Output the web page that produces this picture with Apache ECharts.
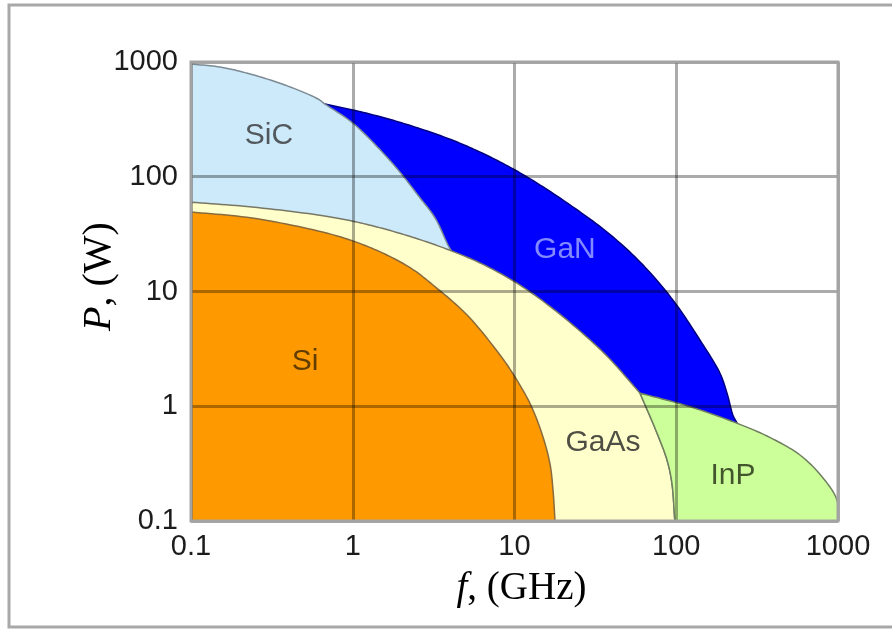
<!DOCTYPE html>
<html>
<head>
<meta charset="utf-8">
<script src="https://cdn.jsdelivr.net/npm/echarts@6/dist/echarts.min.js"></script>
<style>
  html, body { margin: 0; padding: 0; background: #ffffff; }
  #chart { width: 892px; height: 630px; }
</style>
</head>
<body>
<div id="chart"></div>
<script>
// Axis ticks (frequency in GHz, power in W), both logarithmic
const tickValues = [0.1, 1, 10, 100, 1000];
const tickLabels = ['0.1', '1', '10', '100', '1000'];

// Region boundaries as [frequency GHz, power W]
const sicEdge = [[0.1, 960], [0.151, 904], [0.232, 786], [0.381, 630], [0.61, 476], [0.673, 430],
  [1.0, 294], [1.58, 155], [2.02, 104], [2.53, 69], [3.23, 43.7], [3.88, 25.4], [4.11, 22]];
const ganTop = [[0.673, 430], [1.0, 382], [1.58, 325], [2.53, 266], [4.11, 209], [6.3, 161],
  [9.8, 117], [14.4, 84.7], [23, 54.5], [37.3, 33], [59.7, 18.1], [95.5, 8.4], [140, 3.78],
  [186, 1.95], [206, 1.3], [224, 0.84], [238, 0.71]];
const gaasTop = [[0.1, 60], [0.238, 54.5], [0.61, 46.4], [1.0, 41], [1.58, 35], [2.53, 28.7],
  [4.11, 22.5], [6.3, 17.4], [9.8, 12.4], [14.4, 8.6], [23, 5.1], [37.3, 2.74], [54, 1.53], [59.7, 1.3]];
const gaasInpEdge = [[59.7, 1.3], [76, 0.585], [87.7, 0.34], [94, 0.214], [98, 0.1]];
const inpTop = [[59.7, 1.3], [101, 1.07], [140, 0.93], [238, 0.71], [364, 0.55], [582, 0.376],
  [808, 0.237], [986, 0.152], [1000, 0.1]];
const siTop = [[0.1, 49.3], [0.238, 43.7], [0.61, 33.7], [1.0, 27.6], [1.58, 21.2], [2.33, 15.7],
  [3.13, 11.4], [5.09, 6.24], [8.13, 2.8], [9.8, 1.91], [12.5, 1.05], [15, 0.54], [16.6, 0.31],
  [17.3, 0.186], [17.8, 0.1]];

// Region names and where each name sits
const regionNames = ['SiC', 'GaN', 'GaAs', 'InP', 'Si'];
const labelPoints = [[0.303, 226], [20.5, 23], [35.2, 0.479], [224, 0.247], [0.507, 2.43]];
const labelColors = ['#333333', '#a4acff', '#222222', '#1f2a10', '#3a2600'];

// Centripetal Catmull-Rom through the projected points, so borders are smooth curves
function smoothPath(api, pts) {
  const px = pts.map(p => api.coord(p));
  const n = px.length;
  const ext = [
    [2 * px[0][0] - px[1][0], 2 * px[0][1] - px[1][1]]
  ].concat(px, [[2 * px[n - 1][0] - px[n - 2][0], 2 * px[n - 1][1] - px[n - 2][1]]]);
  const knot = (a, b) => Math.max(Math.sqrt(Math.hypot(b[0] - a[0], b[1] - a[1])), 1e-4);
  const lerp = (a, b, ta, tb, t) => [
    ((tb - t) * a[0] + (t - ta) * b[0]) / (tb - ta),
    ((tb - t) * a[1] + (t - ta) * b[1]) / (tb - ta)
  ];
  const out = [];
  const steps = 12;
  for (let i = 1; i < ext.length - 2; i++) {
    const p0 = ext[i - 1], p1 = ext[i], p2 = ext[i + 1], p3 = ext[i + 2];
    const t0 = 0, t1 = t0 + knot(p0, p1), t2 = t1 + knot(p1, p2), t3 = t2 + knot(p2, p3);
    for (let s = 0; s < steps; s++) {
      const t = t1 + (t2 - t1) * s / steps;
      const a1 = lerp(p0, p1, t0, t1, t), a2 = lerp(p1, p2, t1, t2, t), a3 = lerp(p2, p3, t2, t3, t);
      const b1 = lerp(a1, a2, t0, t2, t), b2 = lerp(a2, a3, t1, t3, t);
      out.push(lerp(b1, b2, t1, t2, t));
    }
  }
  out.push(px[n - 1]);
  return out;
}

function region(name, fill, stroke, build) {
  return {
    type: 'custom',
    name: name,
    coordinateSystem: 'cartesian2d',
    silent: true,
    clip: false,
    data: [[0.1, 0.1]],
    renderItem: function (params, api) {
      return {
        type: 'polygon',
        shape: { points: build(api) },
        style: { fill: fill, stroke: stroke, lineWidth: 1.5 }
      };
    }
  };
}

const ganEnd = ganTop[ganTop.length - 1];
const sicEnd = sicEdge[sicEdge.length - 1];

const series = [
  region('GaN', '#0000ff', '#000080', api =>
    smoothPath(api, ganTop).concat([api.coord([ganEnd[0], 0.1]), api.coord([ganTop[0][0], 0.1])])),
  region('SiC', '#cdeafb', '#7c8a94', api =>
    smoothPath(api, sicEdge).concat([api.coord([sicEnd[0], 0.1]), api.coord([0.1, 0.1])])),
  region('GaAs', '#ffffcc', '#777766', api =>
    smoothPath(api, gaasTop).concat(smoothPath(api, gaasInpEdge).slice(1), [api.coord([0.1, 0.1])])),
  region('InP', '#ccff99', '#6f7f5f', api =>
    smoothPath(api, inpTop).concat(smoothPath(api, gaasInpEdge).reverse())),
  region('Si', '#ff9900', '#8a6a3a', api =>
    smoothPath(api, siTop).concat([api.coord([0.1, 0.1])])),
  {
    type: 'scatter',
    silent: true,
    symbolSize: 0,
    z: 4,
    data: labelPoints.map((p, i) => ({
      name: regionNames[i],
      value: p,
      label: { color: labelColors[i] }
    })),
    label: {
      show: true,
      position: 'inside',
      formatter: '{b}',
      fontFamily: 'Liberation Sans, Arial, sans-serif',
      fontSize: 30
    }
  }
];

function tickText(v) {
  for (let i = 0; i < tickValues.length; i++) {
    if (Math.abs(Math.log10(v) - Math.log10(tickValues[i])) < 1e-6) return tickLabels[i];
  }
  return '';
}

const gridLine = { show: true, lineStyle: { color: 'rgba(0,0,0,0.33)', width: 3 } };
const tickFont = { fontFamily: 'Liberation Sans, Arial, sans-serif', fontSize: 29, color: '#1c1c1c' };
function titleStyle(size, padding) {
  const font = { fontFamily: 'Liberation Serif, Times New Roman, serif', fontSize: size, color: '#000000' };
  return Object.assign({ padding: padding, rich: { i: Object.assign({ fontStyle: 'italic' }, font) } }, font);
}

const chart = echarts.init(document.getElementById('chart'), null, { renderer: 'canvas' });
chart.setOption({
  backgroundColor: '#ffffff',
  animation: false,
  grid: {
    left: 191, right: 54, top: 62, bottom: 109,
    show: true, z: 6,
    backgroundColor: 'transparent',
    borderColor: '#a3a3a3', borderWidth: 3,
    outerBoundsMode: 'none'
  },
  xAxis: {
    type: 'log', logBase: 10, min: 0.1, max: 1000, z: 5,
    axisLine: { show: false }, axisTick: { show: false },
    splitLine: gridLine,
    axisLabel: Object.assign({ margin: 11, formatter: tickText }, tickFont),
    name: '{i|f}, (GHz)',
    nameLocation: 'middle',
    nameGap: 48,
    nameTextStyle: titleStyle(39, [0, 0, 0, 14])
  },
  yAxis: {
    type: 'log', logBase: 10, min: 0.1, max: 1000, z: 5,
    axisLine: { show: false }, axisTick: { show: false },
    splitLine: gridLine,
    axisLabel: Object.assign({ margin: 13, formatter: tickText }, tickFont),
    name: '{i|P}, (W)',
    nameLocation: 'middle',
    nameMoveOverlap: false,
    nameGap: 72,
    nameTextStyle: titleStyle(40, [0, 0, 0, 30])
  },
  graphic: [{
    type: 'rect',
    silent: true,
    shape: { x: 9, y: 5, width: 900, height: 622 },
    style: { fill: 'none', stroke: '#a8a8a8', lineWidth: 3 }
  }],
  series: series
});
</script>
</body>
</html>
